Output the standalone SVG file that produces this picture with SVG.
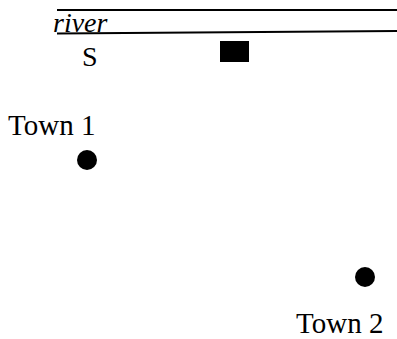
<svg xmlns="http://www.w3.org/2000/svg" width="397" height="339" viewBox="0 0 397 339">
<style>
.ln{stroke:#000;stroke-width:2;fill:none}
.t{font-family:"Liberation Serif","Times New Roman",serif;fill:#000}
</style>
<rect width="397" height="339" fill="#fff"/>
<g id="river">
<line class="ln" x1="57" y1="10" x2="397" y2="10"/>
<line class="ln" x1="57" y1="33.5" x2="397" y2="31"/>
<text class="t" x="53" y="32" font-size="28" font-style="italic">river</text>
</g>
<g id="S">
<text class="t" x="82" y="66" font-size="28">S</text>
</g>
<g id="square">
<rect x="220" y="41" width="29" height="21" fill="#000"/>
</g>
<g id="town1">
<text class="t" x="8" y="135" font-size="29">Town 1</text>
<circle cx="87" cy="160" r="10" fill="#000"/>
</g>
<g id="town2">
<circle cx="365" cy="277" r="10" fill="#000"/>
<text class="t" x="296" y="333" font-size="29">Town 2</text>
</g>
</svg>
